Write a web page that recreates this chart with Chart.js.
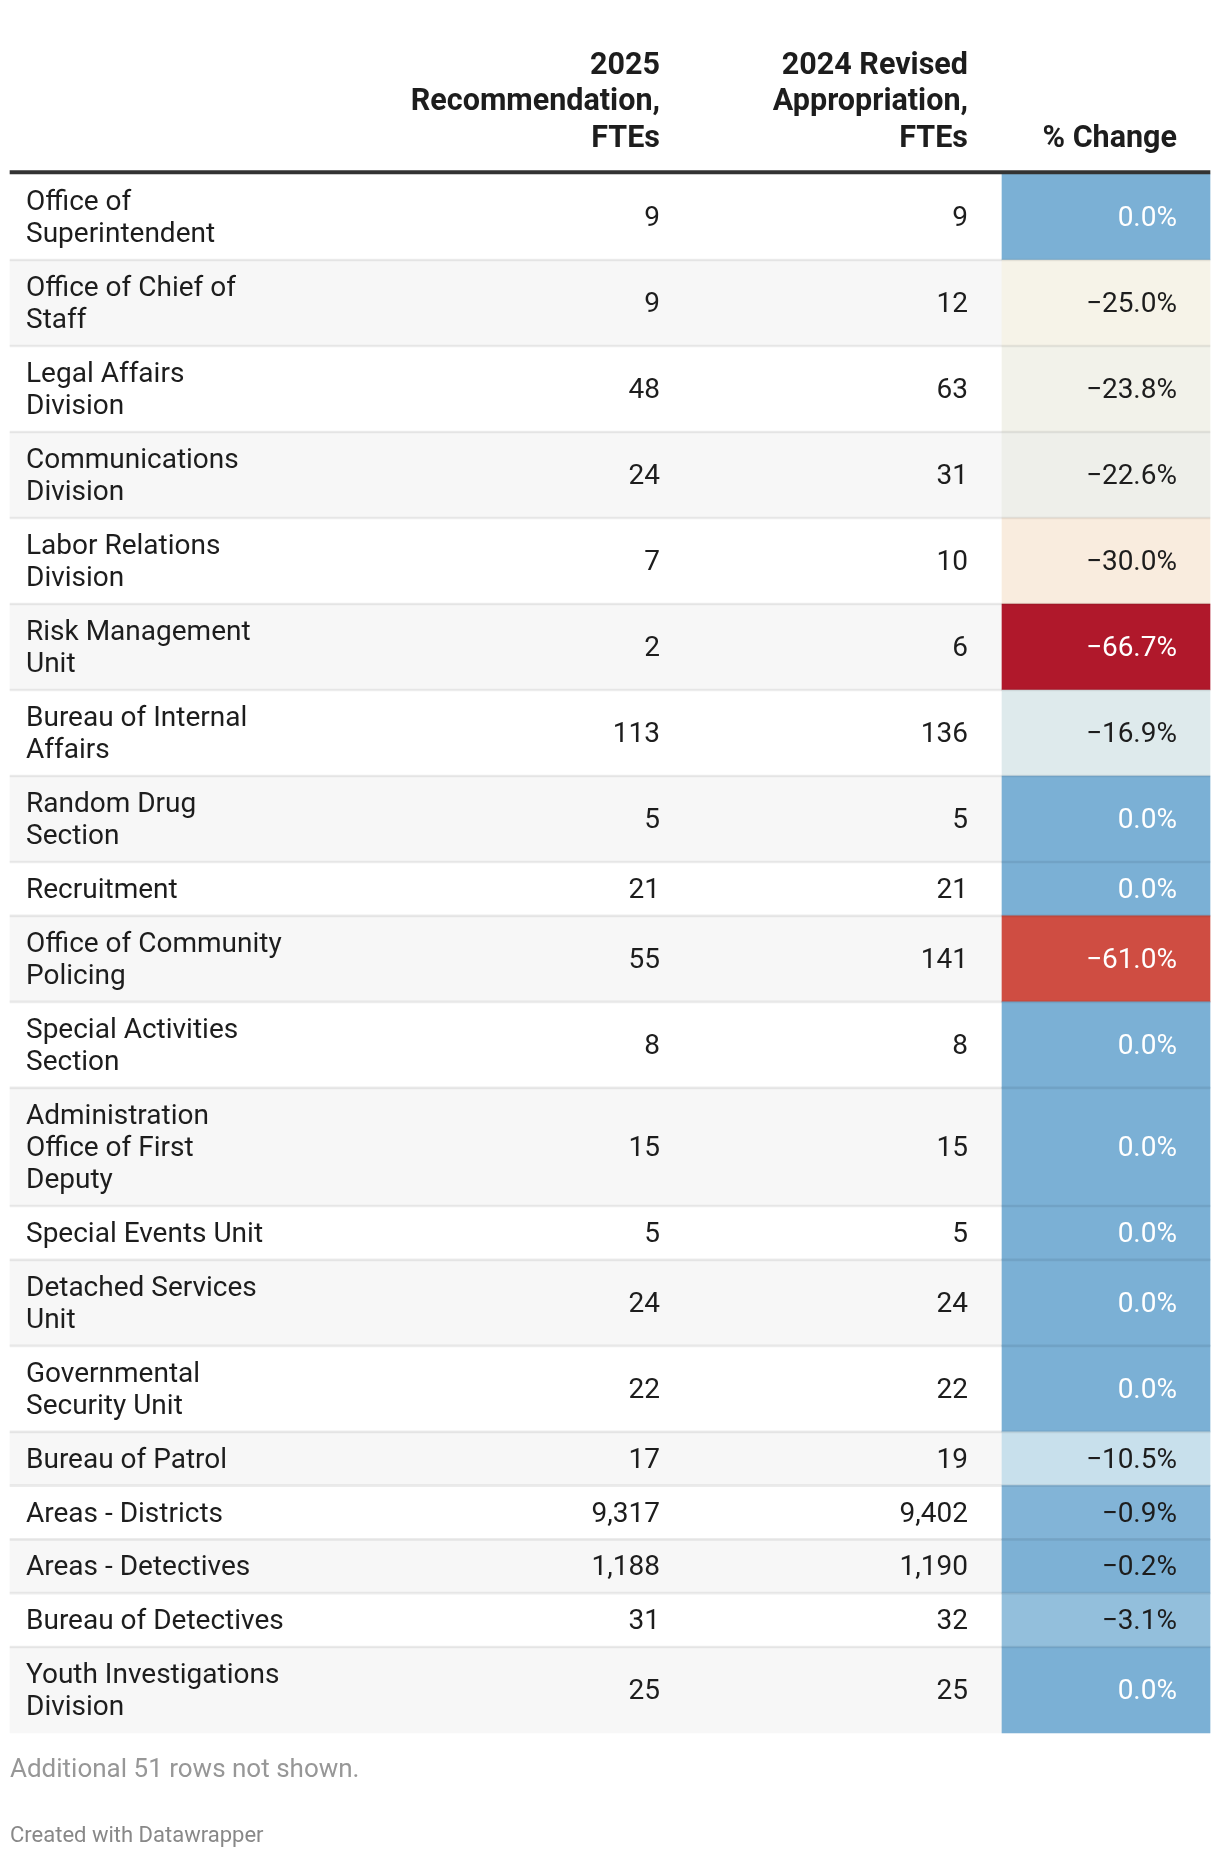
<!DOCTYPE html>
<html>
<head>
<meta charset="utf-8">
<title>FTEs by unit</title>
<script src="https://cdn.jsdelivr.net/npm/chart.js@4.4.1/dist/chart.umd.min.js"></script>
<style>
  html, body { margin: 0; padding: 0; background: #ffffff; }
  #wrap { position: relative; width: 1220px; height: 1858px; overflow: hidden; }
  #table { position: absolute; left: 0; top: 0; }
  .note { position: absolute; left: 10px; font-family: Roboto, "Noto Sans", sans-serif; white-space: nowrap; margin: 0; }
  #footnote { top: 1755px; font-size: 26px; line-height: 26px; color: #979797; }
  #credit { top: 1824px; font-size: 22px; line-height: 22px; color: #888888; }
</style>
</head>
<body>
<div id="wrap">
  <canvas id="table" width="1220" height="1858"></canvas>
  <p class="note" id="footnote"></p>
  <p class="note" id="credit"></p>
</div>
<script>
// ---------------- data ----------------
const rowLabels = [
  "Office of Superintendent", "Office of Chief of Staff", "Legal Affairs Division",
  "Communications Division", "Labor Relations Division", "Risk Management Unit",
  "Bureau of Internal Affairs", "Random Drug Section", "Recruitment",
  "Office of Community Policing", "Special Activities Section",
  "Administration Office of First Deputy", "Special Events Unit",
  "Detached Services Unit", "Governmental Security Unit", "Bureau of Patrol",
  "Areas - Districts", "Areas - Detectives", "Bureau of Detectives",
  "Youth Investigations Division"
];
const fte2025 = [9, 9, 48, 24, 7, 2, 113, 5, 21, 55, 8, 15, 5, 24, 22, 17, 9317, 1188, 31, 25];
const fte2024 = [9, 12, 63, 31, 10, 6, 136, 5, 21, 141, 8, 15, 5, 24, 22, 19, 9402, 1190, 32, 25];
const pctChange = [0.0, -25.0, -23.8, -22.6, -30.0, -66.7, -16.9, 0.0, 0.0, -61.0, 0.0, 0.0, 0.0, 0.0, 0.0, -10.5, -0.9, -0.2, -3.1, 0.0];
const columnHeaders = [
  ["2025", "Recommendation,", "FTEs"],
  ["2024 Revised", "Appropriation,", "FTEs"],
  ["% Change"]
];
const footnote = "Additional 51 rows not shown.";
const credit = "Created with Datawrapper";

// ---------------- styles / layout ----------------
const FONT = 'Roboto, "Noto Sans", sans-serif';
const BODY_SIZE = 28, HEAD_SIZE = 30.5;
const LINE = 32.2, PAD = 21.6, HEAD_LINE = 36.3;
const HEAD_BASELINE = 146.5;
const RULE_TOP = 170.5, RULE_BOTTOM = 174;
const TABLE_LEFT = 10, TABLE_RIGHT = 1210;
const CELL_LEFT = 1002;
const LABEL_X = 26;
const COL_RIGHT = [660, 968, 1177];
const WRAP_WIDTH = 260;
const TEXT_COLOR = '#1d1d1d';

const colorStops = [
  [0, '#7bb0d5'], [-3.1, '#93bfdc'], [-10.5, '#c8e0ec'], [-16.9, '#deeaec'],
  [-22.6, '#eeefea'], [-23.8, '#f2f2ea'], [-25, '#f6f3e8'], [-30, '#f9ecde'],
  [-61, '#cf4d42'], [-66.7, '#b0182b']
];
function hexToRgb(h) { return [1, 3, 5].map(i => parseInt(h.substr(i, 2), 16)); }
function cellColor(v) {
  for (let i = 0; i < colorStops.length - 1; i++) {
    const [a, ca] = colorStops[i], [b, cb] = colorStops[i + 1];
    if (v <= a && v >= b) {
      const t = (a - v) / (a - b);
      const A = hexToRgb(ca), B = hexToRgb(cb);
      const c = A.map((x, k) => Math.round(x + (B[k] - x) * t));
      return 'rgb(' + c.join(',') + ')';
    }
  }
  return v > 0 ? colorStops[0][1] : colorStops[colorStops.length - 1][1];
}
function cellTextColor(v) { return (v === 0 || v <= -50) ? '#ffffff' : TEXT_COLOR; }
function fmtPct(v) { return (v < 0 ? '\u2212' : '') + Math.abs(v).toFixed(1) + '%'; }
function fmtNum(v) { return v.toLocaleString('en-US'); }

// word wrap of first column
const mctx = document.createElement('canvas').getContext('2d');
mctx.font = BODY_SIZE + 'px ' + FONT;
function wrap(text, maxW) {
  const words = text.split(' ');
  const lines = [];
  let cur = '';
  words.forEach(w => {
    const test = cur ? cur + ' ' + w : w;
    if (cur && mctx.measureText(test).width > maxW) { lines.push(cur); cur = w; }
    else cur = test;
  });
  if (cur) lines.push(cur);
  return lines;
}
const wrapped = rowLabels.map(l => wrap(l, WRAP_WIDTH));
const tops = [], bottoms = [];
let yy = RULE_BOTTOM;
wrapped.forEach(w => { tops.push(yy); yy += PAD + LINE * w.length; bottoms.push(yy); });

// ---------------- text plugin ----------------
const tableText = {
  id: 'tableText',
  afterDatasetsDraw(chart) {
    const ctx = chart.ctx, xs = chart.scales.x, ys = chart.scales.y;
    ctx.save();
    ctx.textBaseline = 'alphabetic';
    // header
    ctx.font = 'bold ' + HEAD_SIZE + 'px ' + FONT;
    ctx.fillStyle = TEXT_COLOR;
    ctx.textAlign = 'right';
    columnHeaders.forEach((lines, c) => {
      const n = lines.length;
      lines.forEach((t, k) => {
        ctx.fillText(t, xs.getPixelForValue(COL_RIGHT[c]), ys.getPixelForValue(HEAD_BASELINE - (n - 1 - k) * HEAD_LINE));
      });
    });
    // body
    ctx.font = BODY_SIZE + 'px ' + FONT;
    const capHalf = BODY_SIZE * 0.711 / 2 - 0.8;
    rowLabels.forEach((_, i) => {
      const mid = (tops[i] + bottoms[i]) / 2;
      const lines = wrapped[i];
      ctx.textAlign = 'left';
      ctx.fillStyle = TEXT_COLOR;
      lines.forEach((t, k) => {
        const y = mid + (k - (lines.length - 1) / 2) * LINE + capHalf;
        ctx.fillText(t, xs.getPixelForValue(LABEL_X), ys.getPixelForValue(y));
      });
      ctx.textAlign = 'right';
      const yc = ys.getPixelForValue(mid + capHalf);
      ctx.fillText(fmtNum(fte2025[i]), xs.getPixelForValue(COL_RIGHT[0]), yc);
      ctx.fillText(fmtNum(fte2024[i]), xs.getPixelForValue(COL_RIGHT[1]), yc);
      ctx.fillStyle = cellTextColor(pctChange[i]);
      ctx.fillText(fmtPct(pctChange[i]), xs.getPixelForValue(COL_RIGHT[2]), yc);
    });
    ctx.restore();
  }
};

// ---------------- chart ----------------
const fullCenter = (TABLE_LEFT + TABLE_RIGHT) / 2, fullWidth = TABLE_RIGHT - TABLE_LEFT;
const cellCenter = (CELL_LEFT + TABLE_RIGHT) / 2, cellWidth = TABLE_RIGHT - CELL_LEFT;

new Chart(document.getElementById('table'), {
  type: 'bar',
  data: {
    datasets: [
      {
        label: 'Rows',
        data: rowLabels.map((_, i) => ({ x: fullCenter, y: [tops[i], bottoms[i]] })),
        backgroundColor: rowLabels.map((_, i) => i % 2 ? '#f7f7f7' : '#ffffff'),
        barThickness: fullWidth, grouped: false, order: 4
      },
      {
        label: '% Change',
        data: pctChange.map((v, i) => ({ x: cellCenter, y: [tops[i], bottoms[i]] })),
        backgroundColor: pctChange.map(cellColor),
        barThickness: cellWidth, grouped: false, order: 3
      },
      {
        label: 'Row separators',
        data: rowLabels.slice(1).map((_, i) => ({ x: fullCenter, y: [tops[i + 1] - 1, tops[i + 1] + 1] })),
        backgroundColor: 'rgba(0,0,0,0.075)',
        barThickness: fullWidth, grouped: false, order: 2
      },
      {
        label: 'Header rule',
        data: [{ x: fullCenter, y: [RULE_TOP, RULE_BOTTOM] }],
        backgroundColor: '#333333',
        barThickness: fullWidth, grouped: false, order: 1
      }
    ]
  },
  options: {
    responsive: false,
    maintainAspectRatio: false,
    devicePixelRatio: 1,
    animation: false,
    events: [],
    layout: { padding: 0 },
    scales: {
      x: { type: 'linear', min: 0, max: 1220, offset: false, display: false },
      y: { type: 'linear', min: 0, max: 1858, reverse: true, display: false }
    },
    plugins: { legend: { display: false }, tooltip: { enabled: false } }
  },
  plugins: [tableText]
});

document.getElementById('footnote').textContent = footnote;
document.getElementById('credit').textContent = credit;
</script>
</body>
</html>
